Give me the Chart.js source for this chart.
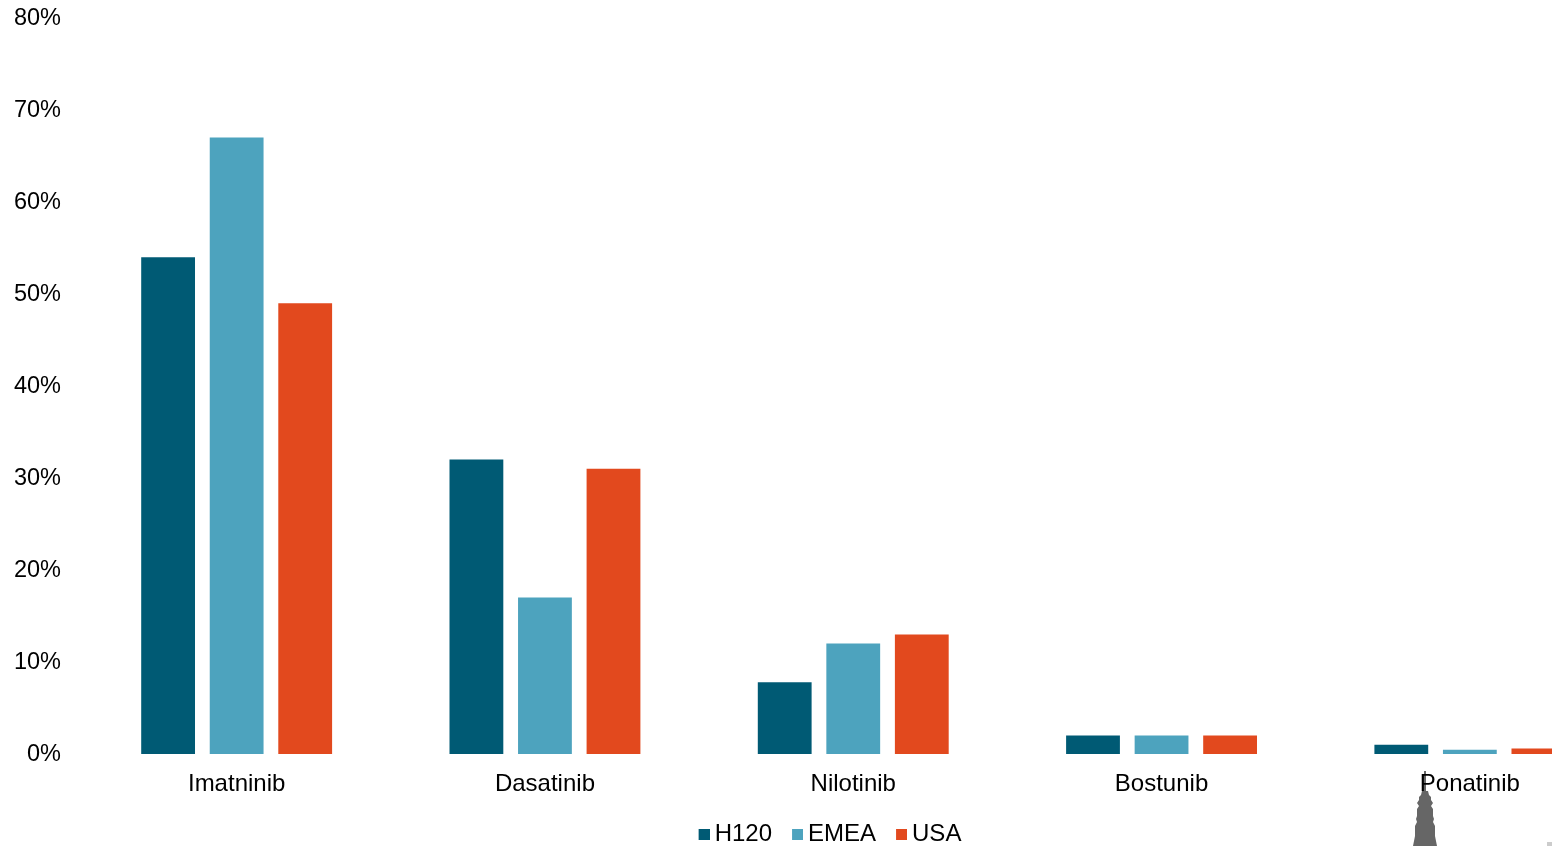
<!DOCTYPE html>
<html><head><meta charset="utf-8">
<script src="https://cdn.jsdelivr.net/npm/chart.js@4"></script>
<style>html,body{margin:0;padding:0;background:#fff;overflow:hidden;width:1552px;height:846px}
#w{position:absolute;left:0;top:0;width:1660px;height:846px}</style></head>
<body><div id="w"><canvas id="c" width="1660" height="846"></canvas></div>
<script>
const categories=["Imatninib","Dasatinib","Nilotinib","Bostunib","Ponatinib"];
const seriesNames=["H120","EMEA","USA"];
const seriesColors=["#005A74","#4DA3BE","#E2491E"];
const h120=[54,32,7.8,2,1];
const emea=[67,17,12,2,0.45];
const usa=[49,31,13,2,0.6];
const yTicks=[0,10,20,30,40,50,60,70,80];
const font='"Liberation Sans",Arial,sans-serif';
function swatch(col){const s=document.createElement('canvas');s.width=14;s.height=11;const x=s.getContext('2d');x.fillStyle=col;x.fillRect(3,0,11,11);return s;}
const tower={id:'tower',
 afterLayout(ch){ch.legend.left+=20;ch.legend.right+=20;ch.legend.top-=6;ch.legend.bottom-=6;},
 beforeDraw(ch){const x=ch.ctx;x.save();x.fillStyle='#666';x.beginPath();
 const p=[[1424,771],[1426,771],[1426,791],[1428,791],[1429,795],[1431,797],[1431,800],[1433,803],[1431,806],[1433,809],[1433,816],[1434,819],[1433,822],[1435,826],[1435,836],[1437,846],[1413,846],[1415,836],[1415,826],[1417,822],[1416,819],[1417,816],[1417,809],[1419,806],[1417,803],[1419,800],[1419,797],[1421,795],[1422,791],[1424,791]];
 p.forEach((q,i)=>i?x.lineTo(q[0],q[1]):x.moveTo(q[0],q[1]));x.closePath();x.fill();
 x.fillStyle='#ccc';x.fillRect(1547,842,5,4);x.restore();
 ch.scales.y.getLabelItems().forEach(i=>{if(!i.shifted){i.textOffset+=1;i.shifted=true;}});}};
new Chart(document.getElementById('c'),{type:'bar',
 data:{labels:categories,datasets:[h120,emea,usa].map((d,i)=>({label:seriesNames[i],data:d,backgroundColor:seriesColors[i],pointStyle:swatch(seriesColors[i]),categoryPercentage:0.667,barPercentage:0.785}))},
 plugins:[tower],
 options:{responsive:false,animation:false,devicePixelRatio:1,
  layout:{padding:{top:18,left:0,right:36,bottom:-16}},
  plugins:{tooltip:{enabled:false},legend:{display:true,position:'bottom',
    labels:{usePointStyle:true,pointStyleWidth:0.01,boxHeight:11,padding:24,color:'#000',font:{family:font,size:24}}}},
  scales:{
   x:{grid:{display:false},border:{display:false},
      ticks:{color:'#000',padding:8,maxRotation:0,autoSkip:false,font:{family:font,size:24}},
      afterFit(s){s.height=50;}},
   y:{min:0,max:80,grid:{display:false},border:{display:false},
      afterBuildTicks(s){s.ticks=yTicks.map(v=>({value:v}));},
      ticks:{color:'#000',padding:13.5,callback:v=>v+'%',font:{family:font,size:23.5}},
      afterFit(s){s.width=82.5;s.paddingTop=0;s.paddingBottom=0;}}
  }}});
</script></body></html>
